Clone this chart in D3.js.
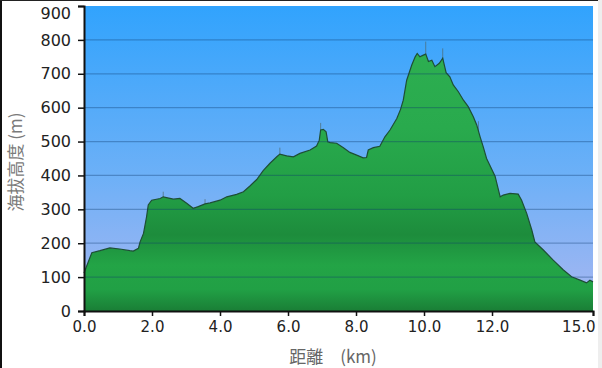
<!DOCTYPE html>
<html>
<head>
<meta charset="utf-8">
<script src="https://cdn.jsdelivr.net/npm/d3@7"></script>
<style>
  body { margin: 0; background: #fff; }
  svg { display: block; }
</style>
</head>
<body>
<script>
// elevation profile, distance in km / altitude in m
var distKm = [0.00, 0.23, 0.47, 0.76, 1.05, 1.35, 1.45, 1.60, 1.65, 1.75, 1.84, 1.89, 1.99, 2.24, 2.33, 2.63, 2.82,
              3.02, 3.21, 3.36, 3.56, 3.71, 4.00, 4.20, 4.49, 4.69, 4.88, 5.08, 5.27, 5.47, 5.67, 5.76, 5.96,
              6.16, 6.35, 6.65, 6.84, 6.92, 6.96, 7.04, 7.12, 7.17, 7.24, 7.43, 7.63, 7.82, 8.02, 8.21, 8.31,
              8.36, 8.51, 8.70, 8.85, 9.00, 9.20, 9.31, 9.39, 9.49, 9.64, 9.74, 9.80, 9.88, 9.98, 10.05, 10.13,
              10.23, 10.32, 10.45, 10.55, 10.65, 10.76, 10.86, 11.01, 11.16, 11.30, 11.45, 11.55, 11.65, 11.74,
              11.84, 12.09, 12.24, 12.33, 12.53, 12.77, 12.87, 13.02, 13.17, 13.26, 13.51, 13.80, 14.10, 14.34,
              14.59, 14.78, 14.88, 14.97];
var altM = [112, 172, 178, 186, 183, 178, 177, 185, 204, 229, 278, 313, 327, 332, 337, 330, 332,
            318, 303, 308, 316, 319, 327, 337, 344, 352, 369, 388, 414, 436, 455, 463, 458,
            455, 465, 475, 487, 504, 534, 536, 529, 499, 497, 495, 482, 468, 460, 452, 453,
            475, 482, 486, 514, 534, 568, 595, 622, 681, 726, 750, 760, 750, 755, 758, 736,
            740, 721, 731, 746, 703, 691, 667, 647, 622, 603, 573, 549, 514, 485,
            450, 398, 337, 342, 347, 345, 327, 288, 239, 204, 180, 150, 121, 101,
            91, 83, 91, 86];
// GPS noise spikes sticking out above the profile
var spikeKm = [2.33, 3.56, 5.76, 6.96, 10.05, 10.55, 11.60];
var spikeTop = [352, 330, 482, 555, 795, 775, 560];

var xTicks = [0, 2, 4, 6, 8, 10, 12, 14.97];
var yTicks = [0, 100, 200, 300, 400, 500, 600, 700, 800, 900];

var W = 602, H = 368;
var plotL = 84, plotR = 593, plotT = 6, plotB = 311;

var svg = d3.select("body").append("svg")
    .attr("width", W)
    .attr("height", H);

var x = d3.scaleLinear().domain([0, d3.max(distKm)]).range([plotL, plotR]);
var y = d3.scaleLinear().domain([0, 900]).range([plotB, plotT]);

var profile = distKm.map(function(d, i) { return {km: d, alt: altM[i]}; });

var defs = svg.append("defs");

var sky = defs.append("linearGradient")
    .attr("id", "sky")
    .attr("x1", 0).attr("y1", 0).attr("x2", 0).attr("y2", 1);
sky.append("stop").attr("offset", "0%").attr("stop-color", "#31a3fd");
sky.append("stop").attr("offset", "55%").attr("stop-color", "#6cb0f7");
sky.append("stop").attr("offset", "100%").attr("stop-color", "#a9b7f1");

var ground = defs.append("linearGradient")
    .attr("id", "ground")
    .attr("gradientUnits", "userSpaceOnUse")
    .attr("x1", 0).attr("y1", plotT).attr("x2", 0).attr("y2", plotB);
[[0, "#2fb153"], [0.40, "#29aa4d"], [0.62, "#229e45"], [0.75, "#1d8c3c"],
 [0.85, "#23a446"], [0.93, "#21a045"], [1, "#1a7e36"]].forEach(function(s) {
  ground.append("stop").attr("offset", s[0]).attr("stop-color", s[1]);
});

// page frame
svg.append("rect").attr("x", 0).attr("y", 0).attr("width", 2).attr("height", H).attr("fill", "#111");
svg.append("rect").attr("x", 0).attr("y", 0).attr("width", 598).attr("height", 1).attr("fill", "#222");
svg.append("rect").attr("x", 598).attr("y", 0).attr("width", 4).attr("height", H).attr("fill", "#eeeeee");

// plot background
svg.append("rect")
    .attr("x", plotL).attr("y", plotT)
    .attr("width", plotR - plotL).attr("height", plotB - plotT)
    .attr("fill", "url(#sky)");

var area = d3.area()
    .x(function(d) { return x(d.km); })
    .y0(y(0))
    .y1(function(d) { return y(d.alt); });

var line = d3.line()
    .x(function(d) { return x(d.km); })
    .y(function(d) { return y(d.alt); });

// spikes (drawn from the ground up, the area hides the lower part)
svg.append("g").selectAll("line")
    .data(spikeKm)
    .join("line")
    .attr("x1", function(d) { return x(d); })
    .attr("x2", function(d) { return x(d); })
    .attr("y1", y(0))
    .attr("y2", function(d, i) { return y(spikeTop[i]); })
    .attr("stroke", "#4d6b73")
    .attr("stroke-opacity", 0.7)
    .attr("stroke-width", 1);

svg.append("path")
    .datum(profile)
    .attr("d", area)
    .attr("fill", "url(#ground)");

svg.append("path")
    .datum(profile)
    .attr("d", line)
    .attr("fill", "none")
    .attr("stroke", "#1e4f35")
    .attr("stroke-width", 1.2);

// grid lines
svg.append("g").selectAll("line")
    .data(yTicks.filter(function(d) { return d > 0 && d < 900; }))
    .join("line")
    .attr("x1", plotL).attr("x2", plotR)
    .attr("y1", function(d) { return y(d); })
    .attr("y2", function(d) { return y(d); })
    .attr("stroke", "#0b3a6e")
    .attr("stroke-opacity", 0.35)
    .attr("stroke-width", 1.2);

// axes
var yAxis = svg.append("g")
    .attr("transform", "translate(" + plotL + ",0)")
    .call(d3.axisLeft(y).tickValues(yTicks).tickSize(6).tickPadding(7).tickFormat(d3.format("d")));

var xAxis = svg.append("g")
    .attr("transform", "translate(0," + plotB + ")")
    .call(d3.axisBottom(x).tickValues(xTicks).tickSize(5).tickPadding(5).tickFormat(d3.format(".1f")));

[yAxis, xAxis].forEach(function(a) {
  a.attr("font-family", "'DejaVu Sans', Verdana, sans-serif").attr("font-size", 15);
  a.select(".domain").attr("stroke", "#111").attr("stroke-width", 2);
  a.selectAll(".tick line").attr("stroke", "#111").attr("stroke-width", 1.5);
  a.selectAll("text").attr("fill", "#222");
});
yAxis.attr("font-size", 16);
// top altitude label is pushed down so it stays inside the picture
yAxis.selectAll(".tick text").filter(function(d) { return d === d3.max(yTicks); })
    .attr("dy", "0.75em");
// last distance label sits left of its tick
xAxis.selectAll(".tick text").filter(function(d) { return d === d3.max(xTicks); })
    .attr("text-anchor", "end").attr("dx", 2);

// axis titles
svg.append("text")
    .attr("transform", "translate(22,162) rotate(-90)")
    .attr("text-anchor", "middle")
    .attr("fill", "#7a7a7a")
    .style("font-family", "'Noto Sans CJK JP', 'DejaVu Sans', sans-serif")
    .style("font-size", "17px")
    .text("海拔高度 (m)");

svg.append("text")
    .attr("x", 333)
    .attr("y", 363)
    .attr("text-anchor", "middle")
    .attr("fill", "#666")
    .style("font-family", "'Noto Sans CJK JP', 'DejaVu Sans', sans-serif")
    .style("font-size", "17px")
    .text("距離　(km)");
</script>
</body>
</html>
